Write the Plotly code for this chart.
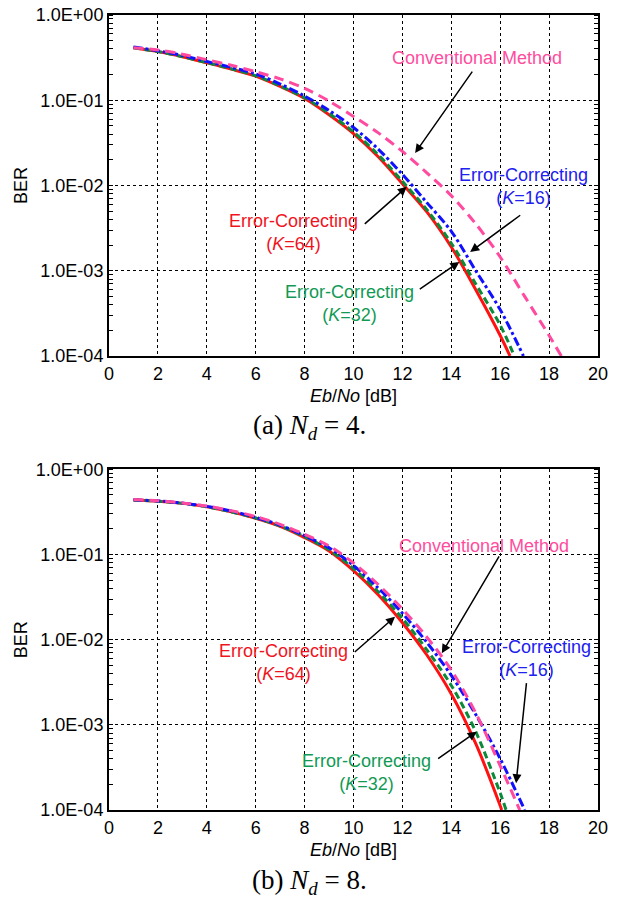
import plotly.graph_objects as go

# ---------------- data ----------------
ebno_ticks = [0, 2, 4, 6, 8, 10, 12, 14, 16, 18, 20]
ber_tickvals = [1, 0.1, 0.01, 0.001, 0.0001]
ber_ticktext = ["1.0E+00", "1.0E-01", "1.0E-02", "1.0E-03", "1.0E-04"]

# (a) Nd = 4
a_x_k64 = [1, 2, 3, 4, 5, 6, 7, 8, 9, 10, 11, 12, 13, 14, 15, 16, 16.4]
a_ber_k64 = [0.413, 0.372, 0.324, 0.275, 0.232, 0.192, 0.145, 0.105, 0.0676, 0.0407,
             0.0219, 0.0105, 0.0049, 0.0019, 0.0006, 0.000174, 0.0001]
a_x_k32 = [1, 2, 3, 4, 5, 6, 7, 8, 9, 10, 11, 12, 13, 14, 15, 16, 16.58]
a_ber_k32 = [0.413, 0.372, 0.325, 0.276, 0.234, 0.194, 0.147, 0.107, 0.070, 0.0425,
             0.0231, 0.0112, 0.0052, 0.0021, 0.0007, 0.00023, 0.0001]
a_x_k16 = [1, 2, 3, 4, 5, 6, 7, 8, 9, 10, 11, 12, 13, 14, 15, 16, 16.95]
a_ber_k16 = [0.422, 0.380, 0.335, 0.285, 0.243, 0.204, 0.155, 0.112, 0.0759, 0.0479,
             0.0269, 0.0135, 0.0063, 0.0029, 0.0010, 0.00035, 0.0001]
a_x_conv = [1, 2, 3, 4, 5, 6, 7, 8, 9, 10, 11, 12, 13, 14, 15, 16, 17, 18, 18.5]
a_ber_conv = [0.413, 0.389, 0.347, 0.299, 0.257, 0.216, 0.178, 0.138, 0.0977, 0.0646,
              0.0417, 0.0251, 0.0141, 0.0076, 0.00355, 0.00145, 0.0005, 0.000174, 0.0001]

# (b) Nd = 8
b_x_k64 = [1, 2, 3, 4, 5, 6, 7, 8, 9, 10, 11, 12, 13, 14, 15, 16, 16.06]
b_ber_k64 = [0.437, 0.422, 0.398, 0.363, 0.316, 0.266, 0.214, 0.158, 0.110, 0.0646,
             0.0339, 0.0158, 0.0066, 0.0023, 0.0006, 0.000112, 0.0001]
b_x_k32 = [1, 2, 3, 4, 5, 6, 7, 8, 9, 10, 11, 12, 13, 14, 15, 16, 16.24]
b_ber_k32 = [0.437, 0.422, 0.398, 0.363, 0.316, 0.268, 0.216, 0.162, 0.1135, 0.0684,
             0.0367, 0.0178, 0.0076, 0.0029, 0.00083, 0.000158, 0.0001]
b_x_k16 = [1, 2, 3, 4, 5, 6, 7, 8, 9, 10, 11, 12, 13, 14, 15, 16, 17]
b_ber_k16 = [0.439, 0.425, 0.401, 0.367, 0.324, 0.272, 0.221, 0.166, 0.120, 0.0741,
             0.0407, 0.0204, 0.0093, 0.0038, 0.00132, 0.0004, 0.0001]
b_x_conv = [1, 2, 3, 4, 5, 6, 7, 8, 9, 10, 11, 12, 13, 14, 15, 16, 16.8]
b_ber_conv = [0.441, 0.427, 0.403, 0.370, 0.327, 0.279, 0.226, 0.172, 0.126, 0.0794,
              0.0447, 0.0229, 0.0107, 0.0044, 0.00138, 0.00033, 0.0001]

# ---------------- styles ----------------
RED = "#ff1111"
GREEN = "#0a8a3a"
BLUE = "#1010ff"
PINK = "#ff4aa0"
GREEN_TXT = "#129a55"
PINK_TXT = "#ff4d9e"
BLUE_TXT = "#2020f0"
RED_TXT = "#f0141e"
SANS = "Liberation Sans, Arial, sans-serif"
SERIF = "Liberation Serif, Times New Roman, serif"
FS = 18
SMOOTH = 0.9

fig = go.Figure()

def add_panel(xa, ya, x64, y64, x32, y32, x16, y16, xc, yc):
    fig.add_trace(go.Scatter(x=x64, y=y64, mode="lines", xaxis=xa, yaxis=ya,
                             line=dict(color=RED, width=3, shape="spline", smoothing=SMOOTH),
                             showlegend=False))
    fig.add_trace(go.Scatter(x=x32, y=y32, mode="lines", xaxis=xa, yaxis=ya,
                             line=dict(color=GREEN, width=3, dash="7px,4px", shape="spline", smoothing=SMOOTH),
                             showlegend=False))
    fig.add_trace(go.Scatter(x=x16, y=y16, mode="lines", xaxis=xa, yaxis=ya,
                             line=dict(color=BLUE, width=3, dash="9px,3px,3px,3px", shape="spline", smoothing=SMOOTH),
                             showlegend=False))
    fig.add_trace(go.Scatter(x=xc, y=yc, mode="lines", xaxis=xa, yaxis=ya,
                             line=dict(color=PINK, width=3, dash="10px,6px", shape="spline", smoothing=SMOOTH),
                             showlegend=False))

add_panel("x", "y", a_x_k64, a_ber_k64, a_x_k32, a_ber_k32, a_x_k16, a_ber_k16, a_x_conv, a_ber_conv)
add_panel("x2", "y2", b_x_k64, b_ber_k64, b_x_k32, b_ber_k32, b_x_k16, b_ber_k16, b_x_conv, b_ber_conv)

W, H = 618, 899

def px_x(p):
    return p / W

def px_y(p):
    return 1 - p / H

xdom = [px_x(109), px_x(598)]
ydom_a = [px_y(356), px_y(15)]
ydom_b = [px_y(810), px_y(469.3)]

xcommon = dict(range=[0, 20], tickvals=ebno_ticks, showgrid=True, gridcolor="black",
               griddash="dot", gridwidth=1, showline=True, linecolor="black", linewidth=2,
               mirror=True, ticks="", zeroline=False, automargin=False,
               ticklabeloverflow="allow",
               tickfont=dict(family=SANS, size=FS, color="black"),
               title=dict(text="<i>Eb</i>/<i>No</i> [dB]", font=dict(family=SANS, size=FS, color="black"),
                          standoff=7))
ycommon = dict(type="log", range=[-4, 0], tickvals=ber_tickvals, ticktext=ber_ticktext,
               showgrid=True, gridcolor="black", griddash="dot", gridwidth=1,
               showline=True, linecolor="black", linewidth=2, mirror="allticks", ticks="",
               zeroline=False, automargin=False, ticklabeloverflow="allow",
               tickfont=dict(family=SANS, size=FS, color="black"),
               minor=dict(ticks="inside", ticklen=4, tickcolor="black", tickwidth=1,
                          showgrid=False, dtick="D1"),
               title=dict(text="BER", font=dict(family=SANS, size=FS, color="black"), standoff=4))

fig.update_layout(
    width=W, height=H, margin=dict(l=0, r=0, t=0, b=0, autoexpand=False),
    paper_bgcolor="white", plot_bgcolor="white",
    xaxis=dict(domain=xdom, anchor="y", **xcommon),
    yaxis=dict(domain=ydom_a, anchor="x", **ycommon),
    xaxis2=dict(domain=xdom, anchor="y2", **xcommon),
    yaxis2=dict(domain=ydom_b, anchor="x2", **ycommon),
)

ann = []

def label(xr, yr, x, y, text, color):
    ann.append(dict(xref=xr, yref=yr, x=x, y=y, text=text, showarrow=False,
                    xanchor="center", yanchor="middle",
                    font=dict(family=SANS, size=FS, color=color), align="center"))

def arrow(xr, yr, hx, hy, tx, ty):
    ann.append(dict(xref=xr, yref=yr, axref=xr, ayref=yr, x=hx, y=hy, ax=tx, ay=ty,
                    text="", showarrow=True, arrowhead=2, arrowsize=1.2, arrowwidth=1.5,
                    arrowcolor="black"))

# panel (a)
label("x", "y", 15.05, -0.505, "Conventional Method", PINK_TXT)
arrow("x", "y", 12.52, -1.62, 14.9, -0.646)
label("x", "y", 16.97, -2.013, "Error-Correcting<br>(<i>K</i>=16)", BLUE_TXT)
arrow("x", "y", 14.77, -2.78, 16.88, -2.336)
label("x", "y", 7.55, -2.557, "Error-Correcting<br>(<i>K</i>=64)", RED_TXT)
arrow("x", "y", 12.18, -2.015, 10.4, -2.465)
label("x", "y", 9.82, -3.38, "Error-Correcting<br>(<i>K</i>=32)", GREEN_TXT)
arrow("x", "y", 14.33, -2.896, 12.65, -3.228)

# panel (b)
label("x2", "y2", 15.34, -0.90, "Conventional Method", PINK_TXT)
arrow("x2", "y2", 13.61, -2.16, 15.99, -1.006)
label("x2", "y2", 17.08, -2.227, "Error-Correcting<br>(<i>K</i>=16)", BLUE_TXT)
arrow("x2", "y2", 16.65, -3.685, 17.08, -2.493)
label("x2", "y2", 7.13, -2.268, "Error-Correcting<br>(<i>K</i>=64)", RED_TXT)
arrow("x2", "y2", 11.70, -1.73, 9.99, -2.16)
label("x2", "y2", 10.53, -3.565, "Error-Correcting<br>(<i>K</i>=32)", GREEN_TXT)
arrow("x2", "y2", 15.04, -3.08, 13.40, -3.41)

# captions
cap_font = dict(family=SERIF, size=27, color="black")
ann.append(dict(xref="paper", yref="paper", x=px_x(309), y=px_y(427), showarrow=False,
                xanchor="center", yanchor="middle",
                text="(a)&nbsp;<i>N</i><sub><i>d</i></sub>&nbsp;=&nbsp;4.", font=cap_font))
ann.append(dict(xref="paper", yref="paper", x=px_x(309), y=px_y(882), showarrow=False,
                xanchor="center", yanchor="middle",
                text="(b)&nbsp;<i>N</i><sub><i>d</i></sub>&nbsp;=&nbsp;8.", font=cap_font))

fig.update_layout(annotations=ann)
fig.write_html("out.html", config={"displayModeBar": False},
               post_script="document.body.style.margin='0';document.body.style.overflow='hidden';")
